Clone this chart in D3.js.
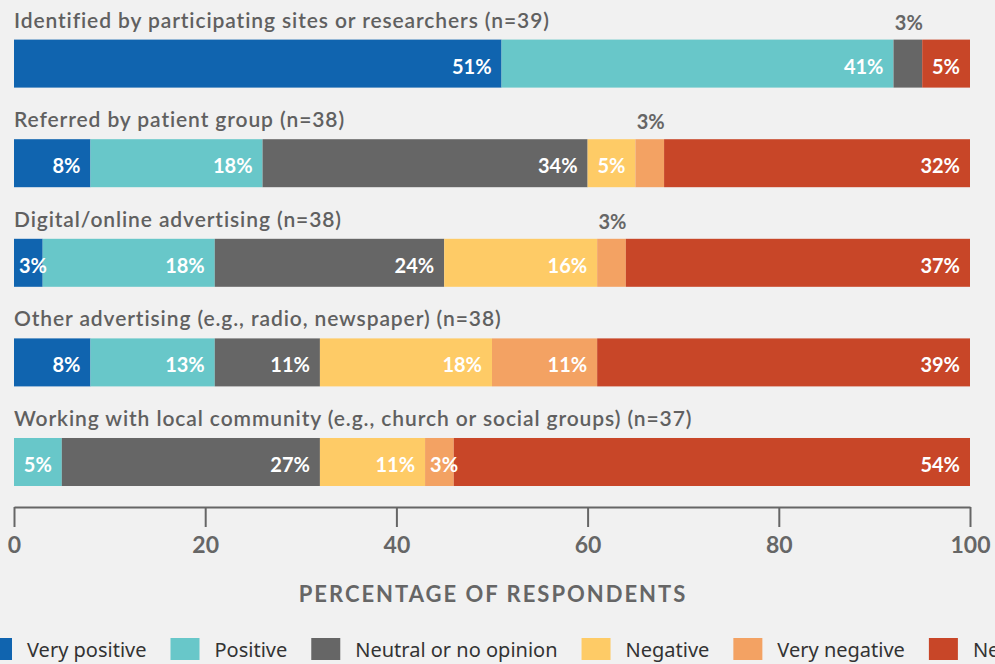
<!DOCTYPE html>
<html>
<head>
<meta charset="utf-8">
<script src="https://cdn.jsdelivr.net/npm/d3@7"></script>
<style>
  html, body { margin: 0; padding: 0; background: #f1f1f1; overflow: hidden; }
  svg { display: block; }
</style>
</head>
<body>
<svg id="chart" width="995" height="664"></svg>
<script>
// Recruitment methods and how respondents rated them (percent of respondents)
const categories = [
  "Identified by participating sites or researchers (n=39)",
  "Referred by patient group (n=38)",
  "Digital/online advertising (n=38)",
  "Other advertising (e.g., radio, newspaper) (n=38)",
  "Working with local community (e.g., church or social groups) (n=37)"
];
const seriesNames = ["Very positive", "Positive", "Neutral or no opinion", "Negative", "Very negative", "Never used"];
const veryPositive = [51, 8, 3, 8, 0];
const positive     = [41, 18, 18, 13, 5];
const neutral      = [3, 34, 24, 11, 27];
const negative     = [0, 5, 16, 18, 11];
const veryNegative = [0, 3, 3, 11, 3];
const neverUsed    = [5, 32, 37, 39, 54];
const xTicks = [0, 20, 40, 60, 80, 100];
// small segments whose value sits above the bar instead of inside it
const labelsAbove = [[0, "Neutral or no opinion"], [1, "Very negative"], [2, "Very negative"]];

const colors = ["#1064af", "#68c7c9", "#666666", "#fecb66", "#f3a263", "#c84628"];
const seriesValues = [veryPositive, positive, neutral, negative, veryNegative, neverUsed];

const rows = categories.map((c, i) => {
  const r = { category: c };
  seriesNames.forEach((s, j) => { r[s] = seriesValues[j][i]; });
  return r;
});

const svg = d3.select("#chart");
const x = d3.scaleLinear().domain([0, 100]).range([14, 970]);
const y = d3.scaleBand().domain(categories).range([39.6, 486]).paddingInner(0.518).paddingOuter(0);
const color = d3.scaleOrdinal().domain(seriesNames).range(colors);

const stacked = d3.stack().keys(seriesNames)(rows);
const xEnd = x(100);

svg.append("defs").append("clipPath").attr("id", "plotClip")
  .append("rect").attr("x", x(0)).attr("y", 0).attr("width", xEnd - x(0)).attr("height", 664);

// Category titles above each bar
svg.append("g").selectAll("text").data(categories).join("text")
  .attr("x", x(0)).attr("y", d => y(d) - 12)
  .attr("font-family", "Lato, 'Open Sans', sans-serif")
  .attr("font-weight", 600).attr("font-size", 21)
  .attr("letter-spacing", 0.9)
  .attr("fill", "#606060")
  .text(d => d);

// Stacked bars
const layer = svg.append("g").attr("clip-path", "url(#plotClip)")
  .selectAll("g").data(stacked).join("g").attr("fill", d => color(d.key));
layer.selectAll("rect").data(d => d.map(p => ({ p, key: d.key }))).join("rect")
  .attr("x", d => x(d.p[0]))
  .attr("y", d => y(d.p.data.category))
  .attr("width", d => Math.max(0, x(d.p[1]) - x(d.p[0])))
  .attr("height", y.bandwidth());

// Value labels
const labelData = [];
stacked.forEach(s => {
  s.forEach((p, i) => {
    const v = p[1] - p[0];
    if (v <= 0) return;
    const above = labelsAbove.some(a => a[0] === i && a[1] === s.key);
    labelData.push({ v, x0: x(p[0]), x1: Math.min(x(p[1]), xEnd), top: y(p.data.category), above });
  });
});
svg.append("g").selectAll("text").data(labelData).join("text")
  .attr("font-family", "Lato, 'Open Sans', sans-serif")
  .attr("font-weight", 700).attr("font-size", 20)
  .attr("fill", d => d.above ? "#666666" : "#ffffff")
  .attr("text-anchor", d => d.above ? "middle" : (d.x1 - d.x0 >= 40 ? "end" : "start"))
  .attr("x", d => d.above ? (d.x0 + d.x1) / 2 + 1 : (d.x1 - d.x0 >= 40 ? d.x1 - 10 : d.x0 + 5))
  .attr("y", d => d.above ? d.top - 10 : d.top + 34)
  .text(d => d.v + "%");

// X axis
const axisY = 507;
const axis = svg.append("g").attr("transform", `translate(0,${axisY})`)
  .call(d3.axisBottom(x).tickValues(xTicks).tickSize(20).tickSizeOuter(0).tickPadding(10));
axis.select(".domain").attr("stroke", "#666").attr("stroke-width", 2);
axis.selectAll(".tick line").attr("stroke", "#666").attr("stroke-width", 2);
axis.selectAll(".tick text")
  .attr("font-family", "Lato, 'Open Sans', sans-serif")
  .attr("font-weight", 700).attr("font-size", 23)
  .attr("fill", "#666");

svg.append("text")
  .attr("x", (x(0) + xEnd) / 2 + 1).attr("y", 602)
  .attr("text-anchor", "middle")
  .attr("font-family", "Lato, 'Open Sans', sans-serif")
  .attr("font-weight", 700).attr("font-size", 22)
  .attr("letter-spacing", 2)
  .attr("fill", "#666")
  .text("PERCENTAGE OF RESPONDENTS");

// Legend, laid out left to right from measured label widths
const legend = svg.append("g");
let lx = -17;
seriesNames.forEach(name => {
  legend.append("rect").attr("x", lx).attr("y", 638).attr("width", 29).attr("height", 22).attr("fill", color(name));
  const t = legend.append("text").attr("x", lx + 29 + 15).attr("y", 657)
    .attr("font-family", "'Noto Sans', 'Open Sans', sans-serif")
    .attr("font-size", 20).attr("fill", "#333")
    .text(name);
  lx = lx + 29 + 15 + t.node().getComputedTextLength() + 24;
});
</script>
</body>
</html>
